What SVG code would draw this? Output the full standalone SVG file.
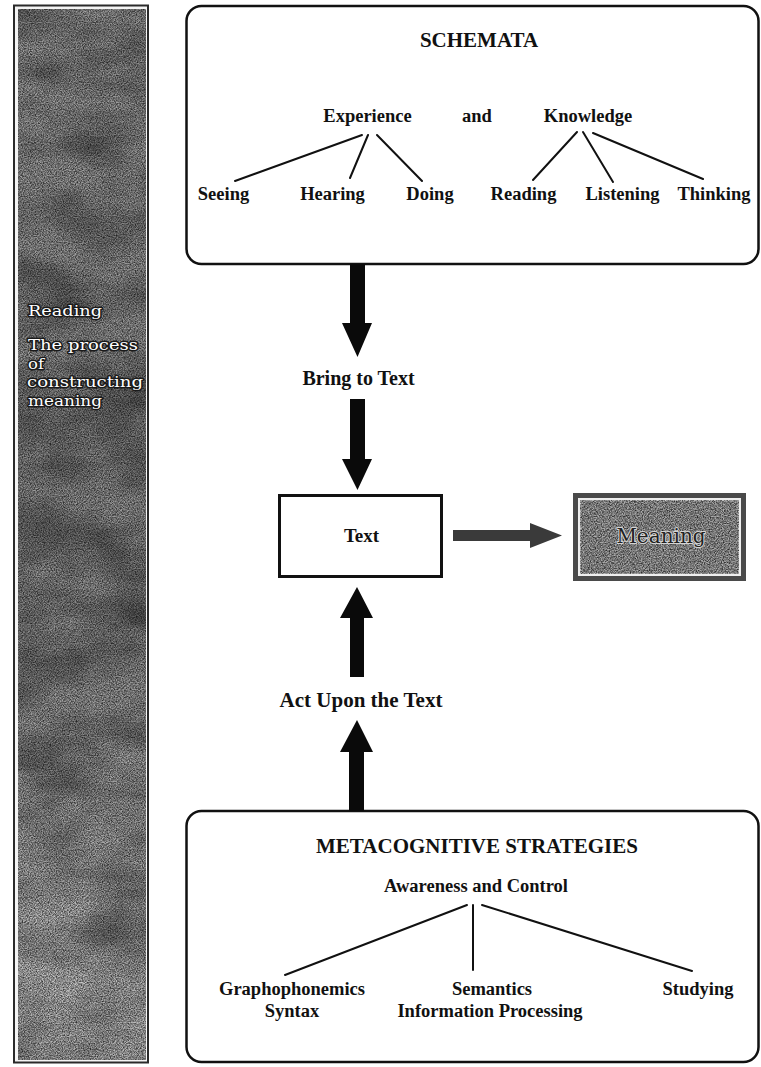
<svg xmlns="http://www.w3.org/2000/svg" width="761" height="1067" viewBox="0 0 761 1067">
<defs>
<style>
.lbl{font-family:"Liberation Serif","Times New Roman",serif;font-weight:bold;fill:#111;text-anchor:middle}
.title{font-size:21px}
.mid{font-size:18.5px}
.side{font-family:"DejaVu Serif",serif;font-size:15.6px;fill:#fff;stroke:#1a1a1a;stroke-width:2.8;paint-order:stroke;stroke-linejoin:round}
.box{fill:#fff;stroke:#111;stroke-width:2.5}
.ln{stroke:#111;stroke-width:2;fill:none;stroke-linecap:round}
.arr{fill:#0a0a0a}
</style>
<linearGradient id="sideGrad" x1="0" y1="0" x2="0" y2="1">
<stop offset="0" stop-color="#a6a6a6"/>
<stop offset="0.4" stop-color="#9a9a9a"/>
<stop offset="0.65" stop-color="#a2a2a2"/>
<stop offset="0.82" stop-color="#bebebe"/>
<stop offset="1" stop-color="#d4d4d4"/>
</linearGradient>
<pattern id="hatch" width="3" height="3" patternUnits="userSpaceOnUse" patternTransform="rotate(45)">
<rect width="1.2" height="3" fill="#000"/>
</pattern>
<filter id="noise" x="0" y="0" width="1" height="1">
<feTurbulence type="fractalNoise" baseFrequency="0.85" numOctaves="2" seed="7" result="t"/>
<feColorMatrix in="t" type="matrix" values="0 0 0 0 0  0 0 0 0 0  0 0 0 0 0  2 0 0 0 -0.6"/>
</filter>
<filter id="blot" x="0" y="0" width="1" height="1">
<feTurbulence type="fractalNoise" baseFrequency="0.012 0.025" numOctaves="3" seed="4" result="t"/>
<feColorMatrix in="t" type="matrix" values="0 0 0 0 0  0 0 0 0 0  0 0 0 0 0  1.4 0 0 0 -0.45"/>
</filter>
</defs>

<g id="sidebar">
<rect x="14" y="5.5" width="134" height="1057" fill="#f4f4f4" stroke="#2a2a2a" stroke-width="2"/>
<rect x="18" y="9" width="128" height="1051" fill="url(#sideGrad)"/>
<rect x="18" y="9" width="128" height="1051" fill="#000" filter="url(#blot)" opacity="0.5"/>
<rect x="18" y="9" width="128" height="1051" fill="url(#hatch)" opacity="0.12"/>
<rect x="18" y="9" width="128" height="1051" fill="#000" filter="url(#noise)" opacity="0.7"/>
<text class="side" x="28" y="316" textLength="74" lengthAdjust="spacingAndGlyphs">Reading</text>
<text class="side" x="28" y="350" textLength="110" lengthAdjust="spacingAndGlyphs">The process</text>
<text class="side" x="28" y="368.5" textLength="16" lengthAdjust="spacingAndGlyphs">of</text>
<text class="side" x="27" y="387" textLength="116" lengthAdjust="spacingAndGlyphs">constructing</text>
<text class="side" x="28" y="405.5" textLength="74" lengthAdjust="spacingAndGlyphs">meaning</text>
</g>

<g id="schemata">
<rect class="box" x="186.5" y="6" width="572" height="258" rx="15"/>
<text class="lbl title" x="479" y="47">SCHEMATA</text>
<text class="lbl mid" x="367.5" y="122">Experience</text>
<text class="lbl mid" x="477" y="122">and</text>
<text class="lbl mid" x="588" y="122">Knowledge</text>
<text class="lbl mid" x="223.5" y="200">Seeing</text>
<text class="lbl mid" x="332.5" y="200">Hearing</text>
<text class="lbl mid" x="430" y="200">Doing</text>
<text class="lbl mid" x="523.5" y="200">Reading</text>
<text class="lbl mid" x="622.5" y="200">Listening</text>
<text class="lbl mid" x="714" y="200">Thinking</text>
<path class="ln" d="M362 135 L235 181 M368 135 L350 178 M377 135 L422 181 M577 132 L533 180 M583 132 L613 182 M593 133 L703 179"/>
</g>

<g id="bring-label">
<text class="lbl" style="font-size:20px" x="358.5" y="385">Bring to Text</text>
</g>

<g id="text-node">
<rect x="279.5" y="495.5" width="162" height="81" fill="#fff" stroke="#111" stroke-width="3"/>
<text class="lbl" style="font-size:19px" x="361.5" y="542">Text</text>
</g>

<g id="meaning">
<rect x="575.5" y="495.5" width="168" height="83" fill="#eeeeee" stroke="#4a4a4a" stroke-width="5"/>
<rect x="580.5" y="500.5" width="158" height="73" fill="#b0b0b0"/>
<rect x="580.5" y="500.5" width="158" height="73" fill="url(#hatch)" opacity="0.12"/>
<rect x="580.5" y="500.5" width="158" height="73" fill="#000" filter="url(#noise)" opacity="0.75"/>
<text x="661" y="543" text-anchor="middle" style="font-family:'DejaVu Serif',serif;font-size:20px;fill:#222;stroke:#d4d4d4;stroke-width:2;paint-order:stroke;stroke-linejoin:round">Meaning</text>
</g>

<g id="act-label">
<text class="lbl" style="font-size:21px" x="361" y="707">Act Upon the Text</text>
</g>

<g id="metacognitive">
<rect class="box" x="186.5" y="811" width="572" height="251" rx="15"/>
<text class="lbl title" x="477" y="853">METACOGNITIVE STRATEGIES</text>
<text class="lbl mid" x="476" y="892">Awareness and Control</text>
<path class="ln" d="M467 905 L285 975 M473 905 L473 970 M482 905 L692 971"/>
<text class="lbl mid" x="292" y="995">Graphophonemics</text>
<text class="lbl mid" x="292" y="1017">Syntax</text>
<text class="lbl mid" x="492" y="995">Semantics</text>
<text class="lbl mid" x="490" y="1017">Information Processing</text>
<text class="lbl mid" x="698" y="995">Studying</text>
</g>

<g id="connectors">
<polygon class="arr" points="350,264 365,264 365,323 372,323 357.5,357 342,323 350,323"/>
<polygon class="arr" points="350,399 365,399 365,459 372,459 357.5,490 342,459 350,459"/>
<polygon class="arr" points="350,677 364,677 364,618 373,618 357,587 340,618 350,618"/>
<polygon class="arr" points="349,811 364,811 364,752 373,752 357,720 340,752 349,752"/>
<polygon points="453,530 530,530 530,523 562,535.5 530,548 530,541 453,541" fill="#3a3a3a"/>
</g>
</svg>
